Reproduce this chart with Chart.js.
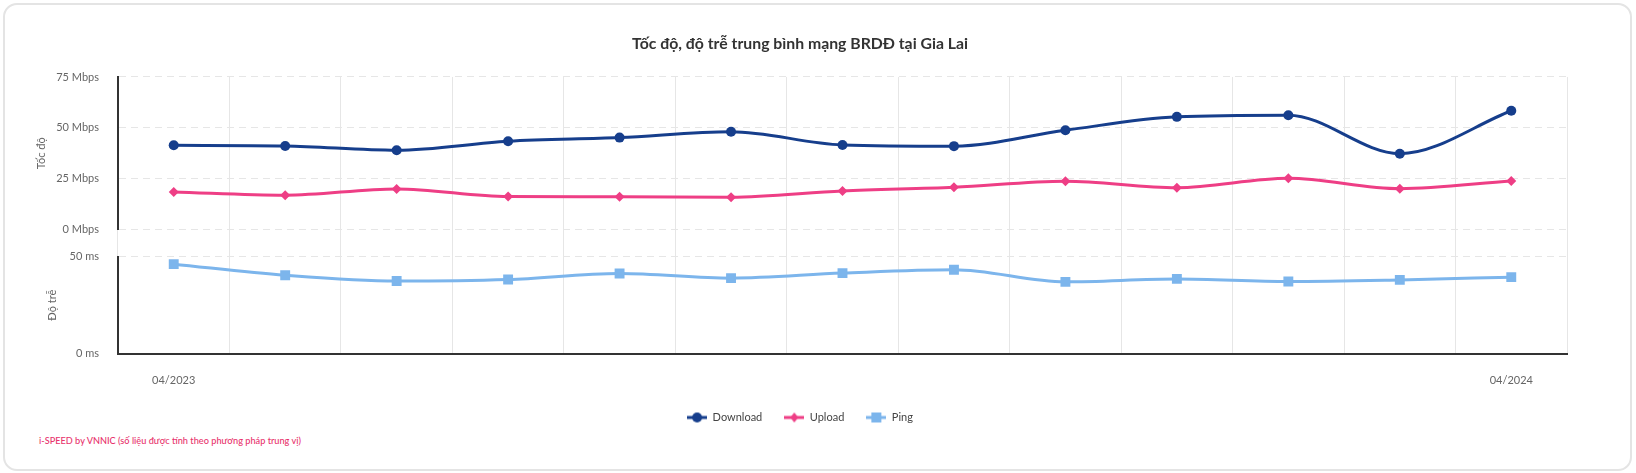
<!DOCTYPE html>
<html>
<head>
<meta charset="utf-8">
<script src="https://cdn.jsdelivr.net/npm/chart.js@4/dist/chart.umd.min.js"></script>
<style>
  html, body { margin: 0; padding: 0; background: #fff; }
  .card {
    position: absolute; left: 3px; top: 3px; width: 1629px; height: 468px;
    border: 2px solid #e4e4e4; border-radius: 14px; box-sizing: border-box;
  }
  #wrap { position: absolute; left: 0; top: 0; width: 1600px; height: 433px; }
  .note {
    position: absolute; left: 39px; top: 435px;
    font: 500 9.2px Lato, sans-serif; color: #e8336d;
  }
</style>
</head>
<body>
<div class="card"></div>
<div id="wrap"><canvas id="speed_chart"></canvas></div>
<div class="note">i-SPEED by VNNIC (số liệu được tính theo phương pháp trung vị)</div>
<script>
const months = ['04/2023', '05/2023', '06/2023', '07/2023', '08/2023', '09/2023', '10/2023',
  '11/2023', '12/2023', '01/2024', '02/2024', '03/2024', '04/2024'];
const download = [41.4, 41.1, 39.0, 43.4, 45.2, 48.1, 41.6, 41.0, 48.8, 55.4, 56.2, 37.3, 58.4];
const upload = [18.5, 16.9, 20.0, 16.2, 16.1, 15.9, 19.0, 20.8, 23.8, 20.6, 25.2, 20.1, 23.9];
const ping = [46.1, 40.4, 37.4, 38.2, 41.3, 38.9, 41.5, 43.2, 37.0, 38.5, 37.2, 38.0, 39.4];

const FONT = 'Lato';
const colDown = '#163e8c';
const colUp = '#ee3e85';
const colPing = '#7cb5ec';

// little line + marker icons for the legend
function legendIcon(color, shape) {
  const c = document.createElement('canvas');
  c.width = 20; c.height = 12;
  const g = c.getContext('2d');
  g.strokeStyle = color; g.fillStyle = color; g.lineWidth = 3;
  g.beginPath(); g.moveTo(0, 6); g.lineTo(20, 6); g.stroke();
  g.beginPath();
  if (shape == 'circle') g.arc(10, 6, 5, 0, Math.PI * 2);
  else if (shape == 'diamond') { g.moveTo(10, 1); g.lineTo(14, 6); g.lineTo(10, 11); g.lineTo(6, 6); g.closePath(); }
  else g.rect(5, 1, 10, 10);
  g.fill();
  return c;
}
const icons = [legendIcon(colDown, 'circle'), legendIcon(colUp, 'diamond'), legendIcon(colPing, 'square')];

new Chart('speed_chart', {
  type: 'line',
  data: {
    labels: months,
    datasets: [{
      label: 'Download',
      data: download,
      yAxisID: 'ySpeed',
      borderColor: colDown,
      backgroundColor: colDown,
      borderWidth: 3,
      pointStyle: 'circle',
      pointRadius: 5,
      pointBorderWidth: 0,
      cubicInterpolationMode: 'monotone'
    }, {
      label: 'Upload',
      data: upload,
      yAxisID: 'ySpeed',
      borderColor: colUp,
      backgroundColor: colUp,
      borderWidth: 3,
      pointStyle: 'rectRot',
      pointRadius: 5,
      pointBorderWidth: 0,
      cubicInterpolationMode: 'monotone'
    }, {
      label: 'Ping',
      data: ping,
      yAxisID: 'yPing',
      borderColor: colPing,
      backgroundColor: colPing,
      borderWidth: 3,
      pointStyle: 'rect',
      pointRadius: 7,
      pointBorderWidth: 0,
      cubicInterpolationMode: 'monotone'
    }]
  },
  options: {
    responsive: true,
    maintainAspectRatio: false,
    animation: false,
    layout: { padding: { left: 33, right: 33, top: 0, bottom: 0 } },
    plugins: {
      title: {
        display: true,
        text: 'Tốc độ, độ trễ trung bình mạng BRDĐ tại Gia Lai',
        color: '#333',
        font: { family: FONT, size: 15.8, weight: 'bold' },
        padding: { top: 34, bottom: 24 }
      },
      legend: {
        position: 'bottom',
        labels: {
          usePointStyle: true,
          pointStyleWidth: 20,
          padding: 22,
          color: '#444',
          font: { family: FONT, size: 11 },
          generateLabels(chart) {
            const items = Chart.defaults.plugins.legend.labels.generateLabels(chart);
            items.forEach((it, i) => { it.pointStyle = icons[i]; });
            return items;
          }
        }
      },
      tooltip: { enabled: false }
    },
    scales: {
      x: {
        offset: true,
        grid: { offset: true, color: '#e6e6e6', tickLength: 17, tickColor: 'transparent' },
        border: { color: '#333', width: 2 },
        ticks: {
          autoSkip: false,
          maxRotation: 0,
          padding: 3,
          color: '#666',
          font: { family: FONT, size: 11 },
          callback(v, i) { return (i == 0 || i == months.length - 1) ? months[i] : ''; }
        }
      },
      yPing: {
        position: 'left',
        stack: 'speed',
        stackWeight: 97.3,
        min: 0, max: 50,
        grid: { color: '#e6e6e6', tickLength: 16, tickColor: 'transparent' },
        border: { color: '#333', width: 2, dash: [7, 5] },
        ticks: { stepSize: 50, padding: 3, color: '#666', font: { family: FONT, size: 11 },
          callback: v => v + ' ms' },
        title: { display: true, text: 'Độ trễ', color: '#666', font: { family: FONT, size: 11 },
          padding: { top: 13, bottom: 0 } }
      },
      yGap: {
        position: 'left',
        stack: 'speed',
        stackWeight: 27,
        display: false
      },
      ySpeed: {
        position: 'left',
        stack: 'speed',
        stackWeight: 152.7,
        min: 0, max: 75,
        grid: { color: '#e6e6e6', tickLength: 16, tickColor: 'transparent' },
        border: { color: '#333', width: 2, dash: [7, 5] },
        ticks: { stepSize: 25, padding: 3, color: '#666', font: { family: FONT, size: 11 },
          callback: v => v + ' Mbps' },
        title: { display: true, text: 'Tốc độ', color: '#666', font: { family: FONT, size: 11 },
          padding: { top: 2, bottom: 5 } }
      }
    }
  }
});
</script>
</body>
</html>
